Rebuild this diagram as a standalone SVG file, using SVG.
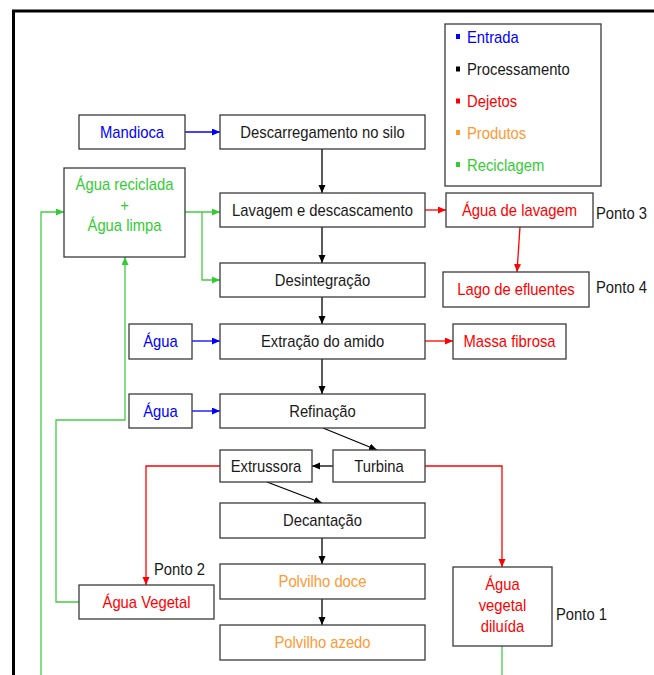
<svg xmlns="http://www.w3.org/2000/svg" width="654" height="675" viewBox="0 0 654 675">
<style>
  .box { fill: #ffffff; stroke: #3a3a3a; stroke-width: 1.3; }
  text { font-family: "Liberation Sans", Arial, sans-serif; font-size: 17px; transform-box: fill-box; transform: scaleX(0.87); }
  .c { text-anchor: middle; transform-origin: center; }
  .l { text-anchor: start; transform-origin: left center; }
  .k { fill: #1a1a1a; }
  .b { fill: #0000ff; }
  .r { fill: #ff0000; }
  .o { fill: #ff9933; }
  .g { fill: #33cc33; }
  .ln { fill: none; stroke-width: 1.3; }
  .lk { stroke: #000000; }
  .lb { stroke: #0000ff; }
  .lr { stroke: #ff0000; }
  .lg { stroke: #44cc44; }
</style>
<defs>
  <marker id="ak" markerUnits="userSpaceOnUse" markerWidth="9" markerHeight="8" refX="8" refY="3.5" orient="auto"><path d="M0,0 L8,3.5 L0,7 z" fill="#000000"/></marker>
  <marker id="ab" markerUnits="userSpaceOnUse" markerWidth="9" markerHeight="8" refX="8" refY="3.5" orient="auto"><path d="M0,0 L8,3.5 L0,7 z" fill="#0000ff"/></marker>
  <marker id="ar" markerUnits="userSpaceOnUse" markerWidth="9" markerHeight="8" refX="8" refY="3.5" orient="auto"><path d="M0,0 L8,3.5 L0,7 z" fill="#ff0000"/></marker>
  <marker id="ag" markerUnits="userSpaceOnUse" markerWidth="9" markerHeight="8" refX="8" refY="3.5" orient="auto"><path d="M0,0 L8,3.5 L0,7 z" fill="#33cc33"/></marker>
</defs>
<rect width="654" height="675" fill="#ffffff"/>
<!-- frame -->
<path d="M13.5,675 L13.5,11 L654,11" fill="none" stroke="#000000" stroke-width="3"/>

<!-- legend -->
<g id="legend">
  <rect class="box" x="445" y="24" width="156" height="162"/>
  <rect x="456" y="34" width="4" height="5" fill="#0000ff"/>
  <text class="l b" x="467" y="43">Entrada</text>
  <rect x="456" y="66.5" width="4" height="5" fill="#000000"/>
  <text class="l k" x="467" y="75.5">Processamento</text>
  <rect x="456" y="98.5" width="4" height="5" fill="#ff0000"/>
  <text class="l r" x="467" y="107.5">Dejetos</text>
  <rect x="456" y="130" width="4" height="5" fill="#ff9933"/>
  <text class="l o" x="467" y="139">Produtos</text>
  <rect x="456" y="162" width="4" height="5" fill="#33cc33"/>
  <text class="l g" x="467" y="171">Reciclagem</text>
</g>

<!-- connectors -->
<g id="connectors">
  <line class="ln lb" x1="185" y1="132" x2="220" y2="132" marker-end="url(#ab)"/>
  <line class="ln lk" x1="322" y1="149" x2="322" y2="193" marker-end="url(#ak)"/>
  <line class="ln lk" x1="322" y1="227" x2="322" y2="263" marker-end="url(#ak)"/>
  <line class="ln lk" x1="322" y1="297" x2="322" y2="324" marker-end="url(#ak)"/>
  <line class="ln lk" x1="322" y1="359" x2="322" y2="394" marker-end="url(#ak)"/>
  <line class="ln lk" x1="323" y1="428" x2="377" y2="450" marker-end="url(#ak)"/>
  <line class="ln lk" x1="333" y1="466" x2="312" y2="466" marker-end="url(#ak)"/>
  <line class="ln lk" x1="267" y1="482" x2="322" y2="503" marker-end="url(#ak)"/>
  <line class="ln lk" x1="322" y1="538" x2="322" y2="564" marker-end="url(#ak)"/>
  <line class="ln lk" x1="322" y1="599" x2="322" y2="625" marker-end="url(#ak)"/>
  <line class="ln lr" x1="425" y1="210" x2="446" y2="210" marker-end="url(#ar)"/>
  <line class="ln lr" x1="520" y1="227" x2="517" y2="272" marker-end="url(#ar)"/>
  <line class="ln lr" x1="425" y1="341" x2="453" y2="341" marker-end="url(#ar)"/>
  <line class="ln lb" x1="192" y1="341" x2="220" y2="341" marker-end="url(#ab)"/>
  <line class="ln lb" x1="192" y1="411" x2="220" y2="411" marker-end="url(#ab)"/>
  <polyline class="ln lr" points="220,466 146,466 146,585" marker-end="url(#ar)"/>
  <polyline class="ln lr" points="425,466 502,466 502,567" marker-end="url(#ar)"/>
  <line class="ln lg" x1="185" y1="212" x2="220" y2="212" marker-end="url(#ag)"/>
  <polyline class="ln lg" points="202,212 202,280 220,280" marker-end="url(#ag)"/>
  <polyline class="ln lg" points="41,675 41,212 64,212" marker-end="url(#ag)"/>
  <polyline class="ln lg" points="79,602 56,602 56,420 125,420 125,257" marker-end="url(#ag)"/>
  <line class="ln lg" x1="502" y1="646" x2="502" y2="675"/>
</g>

<!-- nodes -->
<g id="mandioca">
  <rect class="box" x="79" y="115" width="106" height="34"/>
  <text class="c b" x="132" y="138">Mandioca</text>
</g>
<g id="descarregamento">
  <rect class="box" x="220" y="115" width="205" height="34"/>
  <text class="c k" x="322.5" y="138">Descarregamento no silo</text>
</g>
<g id="agua-reciclada">
  <rect class="box" x="64" y="168" width="121" height="89"/>
  <text class="c g" x="124.5" y="190">Água reciclada</text>
  <text class="c g" x="124.5" y="211">+</text>
  <text class="c g" x="124.5" y="231">Água limpa</text>
</g>
<g id="lavagem">
  <rect class="box" x="220" y="193" width="205" height="34"/>
  <text class="c k" x="322.5" y="216">Lavagem e descascamento</text>
</g>
<g id="agua-lavagem">
  <rect class="box" x="446" y="193" width="147" height="34"/>
  <text class="c r" x="519.5" y="216">Água de lavagem</text>
  <text class="l k" x="596" y="219">Ponto 3</text>
</g>
<g id="desintegracao">
  <rect class="box" x="220" y="263" width="205" height="34"/>
  <text class="c k" x="322.5" y="286">Desintegração</text>
</g>
<g id="lago">
  <rect class="box" x="443" y="272" width="146" height="35"/>
  <text class="c r" x="516" y="295.5">Lago de efluentes</text>
  <text class="l k" x="596" y="293">Ponto 4</text>
</g>
<g id="agua1">
  <rect class="box" x="129" y="324" width="63" height="35"/>
  <text class="c b" x="160.5" y="347">Água</text>
</g>
<g id="extracao">
  <rect class="box" x="220" y="324" width="205" height="35"/>
  <text class="c k" x="322.5" y="347">Extração do amido</text>
</g>
<g id="massa">
  <rect class="box" x="453" y="324" width="113" height="35"/>
  <text class="c r" x="509.5" y="347">Massa fibrosa</text>
</g>
<g id="agua2">
  <rect class="box" x="129" y="394" width="63" height="34"/>
  <text class="c b" x="160.5" y="417">Água</text>
</g>
<g id="refinacao">
  <rect class="box" x="220" y="394" width="205" height="34"/>
  <text class="c k" x="322.5" y="417">Refinação</text>
</g>
<g id="extrussora">
  <rect class="box" x="220" y="450" width="92" height="32"/>
  <text class="c k" x="266" y="472">Extrussora</text>
</g>
<g id="turbina">
  <rect class="box" x="333" y="450" width="92" height="32"/>
  <text class="c k" x="379" y="472">Turbina</text>
</g>
<g id="decantacao">
  <rect class="box" x="220" y="503" width="205" height="35"/>
  <text class="c k" x="322.5" y="526.5">Decantação</text>
</g>
<g id="polvilho-doce">
  <rect class="box" x="220" y="564" width="205" height="35"/>
  <text class="c o" x="322.5" y="587.5">Polvilho doce</text>
</g>
<g id="polvilho-azedo">
  <rect class="box" x="220" y="625" width="205" height="35"/>
  <text class="c o" x="322.5" y="648.5">Polvilho azedo</text>
</g>
<g id="agua-vegetal">
  <rect class="box" x="79" y="585" width="135" height="34"/>
  <text class="c r" x="146.5" y="608">Água Vegetal</text>
  <text class="l k" x="154" y="575">Ponto 2</text>
</g>
<g id="agua-vegetal-diluida">
  <rect class="box" x="453" y="567" width="99" height="79"/>
  <text class="c r" x="502.5" y="590">Água</text>
  <text class="c r" x="502.5" y="611">vegetal</text>
  <text class="c r" x="502.5" y="632">diluída</text>
  <text class="l k" x="556" y="620">Ponto 1</text>
</g>
</svg>
